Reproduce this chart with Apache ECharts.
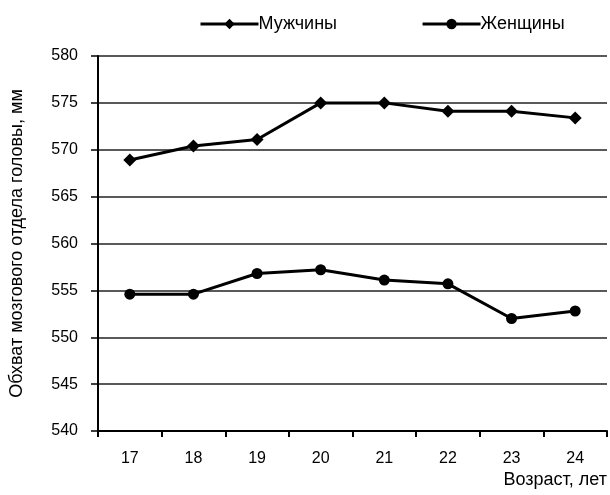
<!DOCTYPE html>
<html>
<head>
<meta charset="utf-8">
<script src="https://cdn.jsdelivr.net/npm/echarts@6/dist/echarts.min.js"></script>
<style>
  html, body { margin: 0; padding: 0; background: #fff; }
  #chart { width: 610px; height: 495px; }
</style>
</head>
<body>
<div id="chart"></div>
<script>
// Age categories (years)
const ages = ['17', '18', '19', '20', '21', '22', '23', '24'];
// Head circumference of the cerebral part, mm
const men = [568.9, 570.4, 571.1, 575.0, 575.0, 574.1, 574.1, 573.4];
const women = [554.6, 554.6, 556.8, 557.2, 556.1, 555.7, 552.0, 552.8];

const FONT = '"Liberation Sans", Arial, sans-serif';
const INK = '#000';

const chart = echarts.init(document.getElementById('chart'), null, { renderer: 'canvas' });

chart.setOption({
  animation: false,
  backgroundColor: '#fff',
  textStyle: { fontFamily: FONT, color: INK },
  legend: {
    top: 15,
    left: 199,
    padding: 0,
    itemGap: 84,
    itemWidth: 58,
    itemHeight: 13,
    lineStyle: { width: 3 },
    textStyle: { fontFamily: FONT, fontSize: 18, color: INK, padding: [0, 0, 0, -5] },
    data: ['Мужчины', 'Женщины']
  },
  grid: { left: 95, right: 2, top: 56, bottom: 64, containLabel: false },
  xAxis: {
    type: 'category',
    data: ages,
    boundaryGap: true,
    name: 'Возраст, лет',
    nameLocation: 'end',
    nameGap: 0,
    nameTextStyle: { fontFamily: FONT, fontSize: 18, color: INK, align: 'right', verticalAlign: 'top', padding: [40, 0, 0, 0] },
    axisLine: { lineStyle: { color: INK, width: 2 } },
    axisTick: { show: true, length: 6, lineStyle: { color: INK, width: 2 } },
    axisLabel: { fontFamily: FONT, fontSize: 16, color: INK, margin: 20 },
    splitLine: { show: false }
  },
  yAxis: {
    type: 'value',
    min: 540,
    max: 580,
    interval: 5,
    name: 'Обхват мозгового отдела головы, мм',
    nameLocation: 'middle',
    nameRotate: 90,
    nameGap: 72,
    nameTextStyle: { fontFamily: FONT, fontSize: 18, color: INK },
    axisLine: { show: true, lineStyle: { color: INK, width: 2 } },
    axisTick: { show: true, inside: false, length: 7, lineStyle: { color: INK, width: 1.5 } },
    axisLabel: { fontFamily: FONT, fontSize: 16, color: INK, margin: 20 },
    splitLine: { show: true, lineStyle: { color: '#222', width: 1.5 } }
  },
  series: [
    {
      name: 'Мужчины',
      type: 'line',
      data: men,
      symbol: 'diamond',
      symbolSize: 13,
      lineStyle: { color: INK, width: 3 },
      itemStyle: { color: INK, borderWidth: 0 },
      z: 3
    },
    {
      name: 'Женщины',
      type: 'line',
      data: women,
      symbol: 'circle',
      symbolSize: 11,
      lineStyle: { color: INK, width: 3 },
      itemStyle: { color: INK, borderWidth: 0 },
      z: 3
    }
  ]
});
</script>
</body>
</html>
